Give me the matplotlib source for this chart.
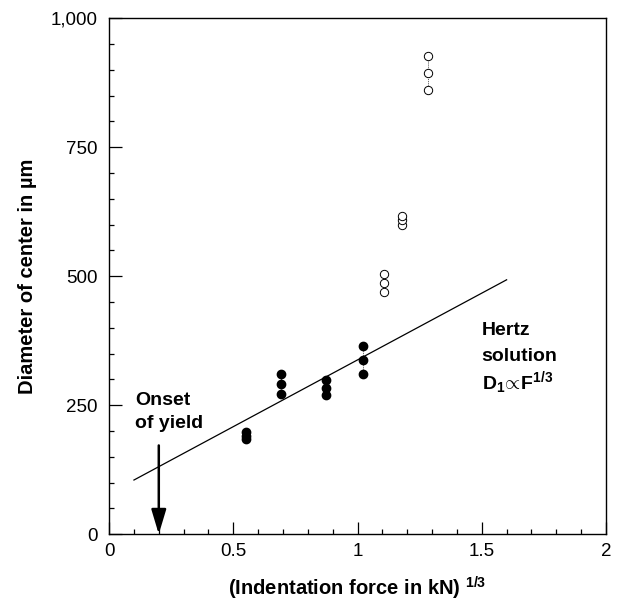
import matplotlib
matplotlib.use("Agg")
import matplotlib.pyplot as plt
from matplotlib.ticker import MultipleLocator, FuncFormatter

plt.rcParams["font.family"] = ["Liberation Sans", "DejaVu Sans"]
plt.rcParams["mathtext.fontset"] = "custom"
plt.rcParams["mathtext.rm"] = "Liberation Sans"
plt.rcParams["mathtext.bf"] = "Liberation Sans:bold"
plt.rcParams["mathtext.it"] = "Liberation Sans:italic"

# Gemessene Punkte (volle Kreise: elastisch-plastisch, offene: nach Fließen)
filled_x = [0.55, 0.69, 0.875, 1.02]
filled_y = [[184, 191, 198], [271, 291, 311], [269, 284, 298], [311, 337, 364]]
open_x = [1.105, 1.18, 1.283]
open_y = [[469, 487, 505], [600, 609, 616], [860, 893, 926]]

# Hertz-Lösung D1 ~ F^(1/3)
hertz_x = [0.1, 1.6]
hertz_y = [105, 493]

# Beginn des Fließens
yield_x = 0.2
yield_top = 172

fig = plt.figure(figsize=(6.27, 6.05), dpi=100)
ax = fig.add_axes([0.174, 0.117, 0.7925, 0.853])

ax.plot(hertz_x, hertz_y, color="black", lw=0.9)

for x, ys in zip(filled_x, filled_y):
    ax.plot([x] * len(ys), ys, ls=(0, (1, 1.5)), color="black", lw=0.6)
    ax.plot([x] * len(ys), ys, "o", ms=6, mfc="black", mec="black", ls="none")

for x, ys in zip(open_x, open_y):
    ax.plot([x] * len(ys), ys, ls=(0, (1, 1.5)), color="black", lw=0.6)
    ax.plot([x] * len(ys), ys, "o", ms=6, mfc="white", mec="black",
            mew=0.7, ls="none")

ax.annotate("", xy=(yield_x, 0), xytext=(yield_x, yield_top),
            arrowprops=dict(arrowstyle="-|>,head_length=1.5,head_width=0.45",
                            lw=1.8, color="black", shrinkA=0, shrinkB=0))

ax.text(0.105, 260, "Onset", fontsize=14, fontweight="bold", va="center")
ax.text(0.105, 215, "of yield", fontsize=14, fontweight="bold", va="center")

ax.text(1.5, 394, "Hertz", fontsize=14, fontweight="bold", va="center")
ax.text(1.5, 344, "solution", fontsize=14, fontweight="bold", va="center")
ax.text(1.5, 294, r"$\mathbf{D_1\!\propto\! F^{1/3}}$", fontsize=14, va="center")

ax.set_xlim(0, 2)
ax.set_ylim(0, 1000)
ax.xaxis.set_major_locator(MultipleLocator(0.5))
ax.xaxis.set_minor_locator(MultipleLocator(0.1))
ax.yaxis.set_major_locator(MultipleLocator(250))
ax.yaxis.set_minor_locator(MultipleLocator(50))
ax.xaxis.set_major_formatter(FuncFormatter(lambda v, p: f"{v:g}"))
ax.yaxis.set_major_formatter(FuncFormatter(lambda v, p: f"{v:,.0f}"))

ax.tick_params(which="both", direction="in", top=False, right=False,
               labelsize=13.5, width=0.9)
ax.tick_params(which="major", length=9)
ax.tick_params(which="minor", length=3.5)
ax.tick_params(axis="x", pad=6)
ax.tick_params(axis="y", pad=8)
for s in ax.spines.values():
    s.set_linewidth(1.0)

ax.set_xlabel(r"(Indentation force in kN) $^{\mathbf{1/3}}$", fontsize=14.5,
              fontweight="bold", labelpad=11)
ax.set_ylabel("Diameter of center in µm", fontsize=14.5, fontweight="bold",
              labelpad=10)

fig.savefig("out.png", dpi=100)
